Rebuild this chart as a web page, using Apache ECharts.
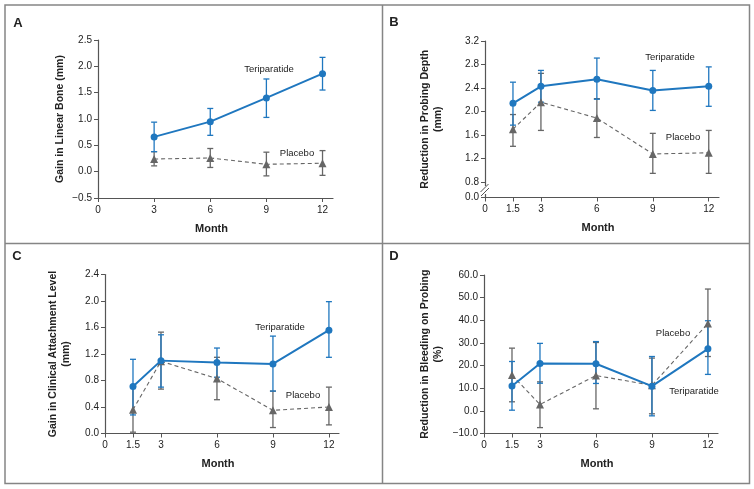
<!DOCTYPE html>
<html>
<head>
<meta charset="utf-8">
<script src="https://cdn.jsdelivr.net/npm/echarts@6/dist/echarts.min.js"></script>
<style>html,body{margin:0;padding:0;background:#fff}#c{width:754px;height:489px}</style>
</head>
<body>
<div id="c"></div>
<script>
// Panel A: Gain in Linear Bone (mm)
var monthsA = [3, 6, 9, 12];
var teriA = [0.66, 0.95, 1.40, 1.86];
var teriA_lo = [0.38, 0.69, 1.03, 1.55];
var teriA_hi = [0.94, 1.20, 1.76, 2.17];
var plaA = [0.24, 0.26, 0.14, 0.16];
var plaA_lo = [0.11, 0.08, -0.08, -0.07];
var plaA_hi = [0.38, 0.44, 0.37, 0.40];
var yTicksA = [-0.5, 0, 0.5, 1.0, 1.5, 2.0, 2.5];
var xTicksA = [0, 3, 6, 9, 12];

// Panel B: Reduction in Probing Depth (mm)
var monthsB = [1.5, 3, 6, 9, 12];
var teriB = [2.14, 2.43, 2.55, 2.36, 2.43];
var teriB_lo = [1.77, 2.16, 2.21, 2.02, 2.09];
var teriB_hi = [2.50, 2.70, 2.91, 2.70, 2.76];
var plaB = [1.70, 2.16, 1.89, 1.28, 1.30];
var plaB_lo = [1.41, 1.68, 1.56, 0.95, 0.95];
var plaB_hi = [1.95, 2.65, 2.22, 1.63, 1.68];
var yTicksB = [0.8, 1.2, 1.6, 2.0, 2.4, 2.8, 3.2];
var xTicksBCD = [0, 1.5, 3, 6, 9, 12];

// Panel C: Gain in Clinical Attachment Level (mm)
var monthsC = [1.5, 3, 6, 9, 12];
var teriC = [0.71, 1.10, 1.07, 1.05, 1.56];
var teriC_lo = [0.28, 0.70, 0.85, 0.64, 1.15];
var teriC_hi = [1.12, 1.49, 1.29, 1.47, 1.99];
var plaC = [0.36, 1.09, 0.83, 0.35, 0.40];
var plaC_lo = [0.02, 0.67, 0.51, 0.09, 0.13];
var plaC_hi = [0.70, 1.53, 1.15, 0.64, 0.70];
var yTicksC = [0, 0.4, 0.8, 1.2, 1.6, 2.0, 2.4];

// Panel D: Reduction in Bleeding on Probing (%)
var monthsD = [1.5, 3, 6, 9, 12];
var teriD = [11.0, 20.9, 20.8, 10.9, 27.4];
var teriD_lo = [0.3, 12.2, 12.1, -2.2, 16.1];
var teriD_hi = [21.8, 29.8, 30.6, 24.0, 39.8];
var plaD = [15.8, 2.8, 15.6, 11.3, 38.6];
var plaD_lo = [4.0, -7.4, 0.9, -1.3, 24.0];
var plaD_hi = [27.7, 12.8, 30.2, 23.3, 53.8];
var yTicksD = [-10, 0, 10, 20, 30, 40, 50, 60];

var BLUE = '#1f77bf';
var GRAY = '#666666';
var FONT = '"Liberation Sans", Arial, sans-serif';
var AXC = '#555';

function zip(xs, ys) { return xs.map(function (x, i) { return [x, ys[i]]; }); }
function zip3(xs, lo, hi) { return xs.map(function (x, i) { return [x, lo[i], hi[i]]; }); }

function errSeries(idx, xs, lo, hi, color, z) {
  return {
    type: 'custom', xAxisIndex: idx, yAxisIndex: idx, z: z, silent: true,
    data: zip3(xs, lo, hi),
    renderItem: function (params, api) {
      var p1 = api.coord([api.value(0), api.value(1)]);
      var p2 = api.coord([api.value(0), api.value(2)]);
      var w = 3;
      var st = { stroke: color, lineWidth: 1.3 };
      return { type: 'group', children: [
        { type: 'line', shape: { x1: p1[0], y1: p1[1], x2: p2[0], y2: p2[1] }, style: st },
        { type: 'line', shape: { x1: p1[0] - w, y1: p1[1], x2: p1[0] + w, y2: p1[1] }, style: st },
        { type: 'line', shape: { x1: p2[0] - w, y1: p2[1], x2: p2[0] + w, y2: p2[1] }, style: st }
      ]};
    }
  };
}

function lineSeries(idx, xs, ys, kind) {
  var teri = kind === 'teri';
  return {
    type: 'line', xAxisIndex: idx, yAxisIndex: idx, z: teri ? 5 : 4,
    data: zip(xs, ys), silent: true, animation: false,
    symbol: teri ? 'circle' : 'triangle', symbolSize: teri ? 7 : 8,
    itemStyle: { color: teri ? BLUE : GRAY },
    lineStyle: { color: teri ? BLUE : GRAY, width: teri ? 2 : 1.1, type: teri ? 'solid' : [4, 3] }
  };
}

var grids = [
  { left: 98, top: 40, width: 235, height: 158 },
  { left: 485, top: 41, width: 234, height: 156.5 },
  { left: 105, top: 274.5, width: 234, height: 159 },
  { left: 484, top: 275, width: 234, height: 158.5 }
];

function xAxis(idx, ticks, max) {
  return {
    type: 'value', gridIndex: idx, min: 0, max: max,
    name: 'Month', nameLocation: 'middle', nameGap: 25,
    nameTextStyle: { fontFamily: FONT, fontWeight: 'bold', fontSize: 11, color: '#222', padding: [0, 8, 0, 0] },
    axisLine: { show: true, onZero: false, lineStyle: { color: AXC, width: 1.2 } },
    axisTick: { show: true, length: 4, inside: false, customValues: ticks, lineStyle: { color: AXC } },
    axisLabel: { customValues: ticks, margin: 7, fontFamily: FONT, fontSize: 10, color: '#222',
      formatter: function (v) { return String(v); } },
    splitLine: { show: false }
  };
}

function yAxis(idx, name, min, max, ticks, fmt, gap) {
  return {
    type: 'value', gridIndex: idx, min: min, max: max,
    name: name, nameLocation: 'middle', nameGap: gap, nameRotate: 90,
    nameTextStyle: { fontFamily: FONT, fontWeight: 'bold', fontSize: 10.5, color: '#222', lineHeight: 13 },
    axisLine: { show: true, onZero: false, lineStyle: { color: AXC, width: 1.2 } },
    axisTick: { show: true, length: 4, customValues: ticks, lineStyle: { color: AXC } },
    axisLabel: { customValues: ticks, margin: 6, fontFamily: FONT, fontSize: 10, color: '#222', formatter: fmt },
    splitLine: { show: false }
  };
}

function f1(v) { return (v < 0 ? '\u2212' : '') + Math.abs(v).toFixed(1); }
var bMin = 0.54;
var yTicksBfull = [bMin].concat(yTicksB);
function fB(v) { return Math.abs(v - bMin) < 1e-6 ? '0.0' : f1(v); }

var txt = function (x, y, s, opt) {
  opt = opt || {};
  return { type: 'text', x: x, y: y, silent: true, style: {
    text: s, fill: '#222', fontFamily: FONT, fontSize: opt.size || 9.5,
    fontWeight: opt.bold ? 'bold' : 'normal', align: opt.align || 'center', verticalAlign: 'middle' } };
};

var option = {
  animation: false,
  backgroundColor: '#fff',
  grid: grids,
  xAxis: [xAxis(0, xTicksA, 12.56), xAxis(1, xTicksBCD, 12.55), xAxis(2, xTicksBCD, 12.54), xAxis(3, xTicksBCD, 12.54)],
  yAxis: [
    yAxis(0, 'Gain in Linear Bone (mm)', -0.5, 2.5, yTicksA, f1, 31),
    yAxis(1, 'Reduction in Probing Depth\n(mm)', bMin, 3.2, yTicksBfull, fB, 40),
    yAxis(2, 'Gain in Clinical Attachment Level\n(mm)', 0, 2.4, yTicksC, f1, 32),
    yAxis(3, 'Reduction in Bleeding on Probing\n(%)', -10, 60, yTicksD, f1, 39)
  ],
  series: [
    errSeries(0, monthsA, plaA_lo, plaA_hi, GRAY, 2), errSeries(0, monthsA, teriA_lo, teriA_hi, BLUE, 3),
    lineSeries(0, monthsA, plaA, 'pla'), lineSeries(0, monthsA, teriA, 'teri'),
    errSeries(1, monthsB, plaB_lo, plaB_hi, GRAY, 2), errSeries(1, monthsB, teriB_lo, teriB_hi, BLUE, 3),
    lineSeries(1, monthsB, plaB, 'pla'), lineSeries(1, monthsB, teriB, 'teri'),
    errSeries(2, monthsC, plaC_lo, plaC_hi, GRAY, 2), errSeries(2, monthsC, teriC_lo, teriC_hi, BLUE, 3),
    lineSeries(2, monthsC, plaC, 'pla'), lineSeries(2, monthsC, teriC, 'teri'),
    errSeries(3, monthsD, plaD_lo, plaD_hi, GRAY, 2), errSeries(3, monthsD, teriD_lo, teriD_hi, BLUE, 3),
    lineSeries(3, monthsD, plaD, 'pla'), lineSeries(3, monthsD, teriD, 'teri')
  ],
  graphic: [
    { type: 'rect', shape: { x: 5, y: 5, width: 744.5, height: 478.5 }, style: { fill: 'none', stroke: '#858585', lineWidth: 1.5 }, silent: true },
    { type: 'line', shape: { x1: 382.5, y1: 5, x2: 382.5, y2: 483.5 }, style: { stroke: '#858585', lineWidth: 1.5 }, silent: true },
    { type: 'line', shape: { x1: 5, y1: 243.5, x2: 749.5, y2: 243.5 }, style: { stroke: '#858585', lineWidth: 1.5 }, silent: true },
    txt(18, 23, 'A', { bold: true, size: 13 }),
    txt(394, 22, 'B', { bold: true, size: 13 }),
    txt(17, 256, 'C', { bold: true, size: 13 }),
    txt(394, 256, 'D', { bold: true, size: 13 }),
    txt(269, 69, 'Teriparatide'), txt(297, 153, 'Placebo'),
    txt(670, 57, 'Teriparatide'), txt(683, 137, 'Placebo'),
    txt(280, 327, 'Teriparatide'), txt(303, 395, 'Placebo'),
    txt(673, 333, 'Placebo'), txt(694, 391, 'Teriparatide'),
    // axis-break marks on panel B y axis
    { type: 'rect', shape: { x: 482, y: 186, width: 6, height: 8 }, style: { fill: '#fff' }, silent: true, z: 100 },
    { type: 'line', shape: { x1: 480.5, y1: 192, x2: 488.5, y2: 184 }, style: { stroke: AXC, lineWidth: 1 }, silent: true, z: 101 },
    { type: 'line', shape: { x1: 481, y1: 196, x2: 489, y2: 188 }, style: { stroke: AXC, lineWidth: 1 }, silent: true, z: 101 }
  ]
};

var chart = echarts.init(document.getElementById('c'), null, { renderer: 'canvas' });
chart.setOption(option);
</script>
</body>
</html>
